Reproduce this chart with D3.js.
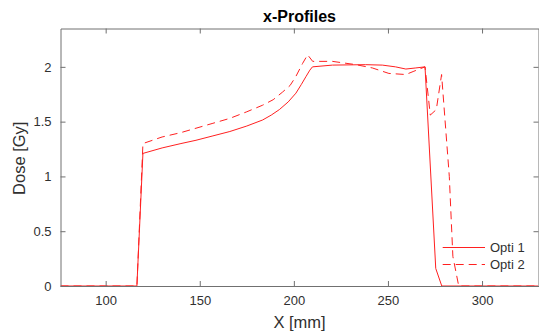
<!DOCTYPE html>
<html><head><meta charset="utf-8">
<script src="https://cdn.jsdelivr.net/npm/d3@7"></script>
<style>body{margin:0;background:#fff}svg{display:block}text{font-family:"Liberation Sans",Arial,sans-serif}</style>
</head><body>
<script>
const xTicks = [100, 150, 200, 250, 300];
const yTicks = [0, 0.5, 1, 1.5, 2];
const yTickLabels = ["0", "0.5", "1", "1.5", "2"];
const seriesNames = ["Opti 1", "Opti 2"];
const opti1X = [76, 116.6, 119.8, 130, 140, 148, 157, 166, 175, 183.4, 188, 192.3, 197, 201.1, 204, 206.4, 208.5, 209.9, 220.5, 238, 247, 254, 259.5, 264.8, 269.7, 275.4, 278.6, 330];
const opti1Y = [0, 0, 1.21, 1.26, 1.30, 1.33, 1.37, 1.41, 1.46, 1.515, 1.56, 1.61, 1.68, 1.76, 1.84, 1.91, 1.97, 2.0, 2.016, 2.02, 2.016, 2.0, 1.98, 1.99, 2.0, 0.16, 0, 0];
const opti2X = [76, 116.6, 119.8, 130, 140, 148, 157, 166, 175, 183.4, 189, 194, 198, 201, 204.6, 207.3, 210, 220.5, 233, 241.7, 250.5, 259.5, 263.8, 269.7, 272.5, 275.7, 278.5, 282.6, 284.5, 287.6, 330];
const opti2Y = [0, 0, 1.30, 1.36, 1.40, 1.44, 1.485, 1.53, 1.59, 1.65, 1.70, 1.77, 1.83, 1.91, 2.03, 2.11, 2.05, 2.05, 2.02, 1.99, 1.94, 1.93, 1.96, 2.0, 1.56, 1.61, 1.93, 1.0, 0.27, 0, 0];

const W = 539, H = 333;
const L = 60.5, R = 538.5, T = 28.5, B = 286;
const svg = d3.select("body").append("svg").attr("width", W).attr("height", H);
const x = d3.scaleLinear().domain([76, 330]).range([L, R]);
const y = d3.scaleLinear().domain([0, 2.35]).range([B, T]);
const axisColor = "#707070", textColor = "#303030";

const line = d3.line().x(d => x(d[0])).y(d => y(d[1]));
const d1 = opti1X.map((v, i) => [v, opti1Y[i]]);
const d2 = opti2X.map((v, i) => [v, opti2Y[i]]);

svg.append("defs").append("clipPath").attr("id", "c")
  .append("rect").attr("x", L).attr("y", T).attr("width", R - L).attr("height", B - T + 1);

const g = svg.append("g").attr("clip-path", "url(#c)");
g.append("path").datum(d1).attr("d", line).attr("fill", "none").attr("stroke", "#ff2020").attr("stroke-width", 1);
g.append("path").datum(d2).attr("d", line).attr("fill", "none").attr("stroke", "#ff2020").attr("stroke-width", 1).attr("stroke-dasharray", "8,5");

function styleAxis(sel) {
  sel.selectAll("path.domain").attr("stroke", axisColor);
  sel.selectAll(".tick line").attr("stroke", axisColor);
  sel.selectAll(".tick text").attr("fill", textColor).attr("font-size", "13px").attr("font-family", "Liberation Sans, Arial, sans-serif");
}
const xb = svg.append("g").attr("transform", `translate(0,${B})`)
  .call(d3.axisBottom(x).tickValues(xTicks).tickSizeInner(-5).tickSizeOuter(0).tickPadding(10));
styleAxis(xb);
const xt = svg.append("g").attr("transform", `translate(0,${T})`)
  .call(d3.axisTop(x).tickValues(xTicks).tickSizeInner(-5).tickSizeOuter(0).tickFormat(""));
styleAxis(xt);
const yl = svg.append("g").attr("transform", `translate(${L},0)`)
  .call(d3.axisLeft(y).tickValues(yTicks).tickFormat((d, i) => yTickLabels[i]).tickSizeInner(-5).tickSizeOuter(0).tickPadding(9));
styleAxis(yl);
const yr = svg.append("g").attr("transform", `translate(${R},0)`)
  .call(d3.axisRight(y).tickValues(yTicks).tickSizeInner(-5).tickSizeOuter(0).tickFormat(""));
styleAxis(yr);

svg.append("text").attr("x", (L + R) / 2).attr("y", 22).attr("text-anchor", "middle")
  .attr("font-size", "16px").attr("font-weight", "bold").attr("fill", "#000").text("x-Profiles");
svg.append("text").attr("x", (L + R) / 2).attr("y", 328).attr("text-anchor", "middle")
  .attr("font-size", "16.5px").attr("fill", textColor).text("X [mm]");
svg.append("text").attr("transform", `translate(25,${(T + B) / 2 + 1}) rotate(-90)`).attr("text-anchor", "middle")
  .attr("font-size", "16.5px").attr("fill", textColor).text("Dose [Gy]");

const leg = svg.append("g");
seriesNames.forEach((name, i) => {
  const yy = 247.5 + i * 17;
  leg.append("line").attr("x1", 442.7).attr("x2", 485).attr("y1", yy).attr("y2", yy)
    .attr("stroke", "#ff2020").attr("stroke-width", 1).attr("stroke-dasharray", i ? "8,5" : null);
  leg.append("text").attr("x", 490).attr("y", yy + 4.5).attr("font-size", "13px").attr("fill", textColor).text(name);
});
</script>
</body></html>
